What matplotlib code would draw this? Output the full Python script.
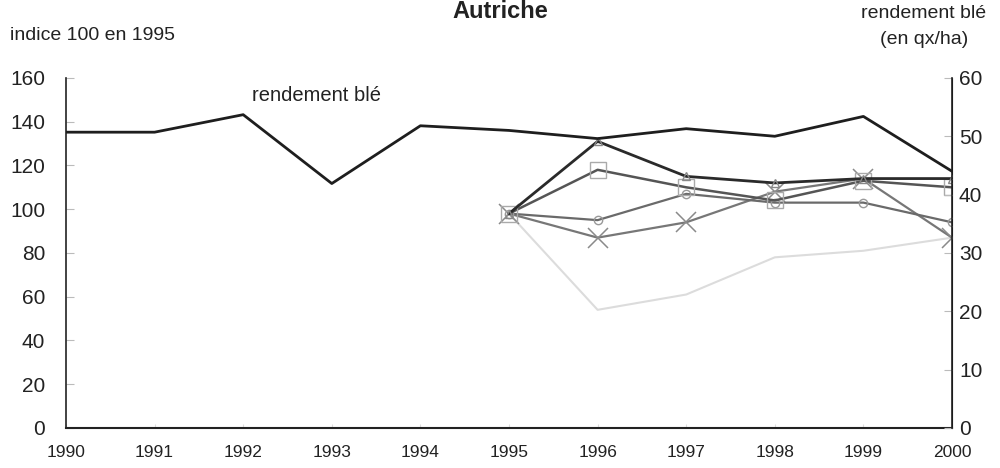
import matplotlib
matplotlib.use("Agg")
import matplotlib.pyplot as plt

plt.rcParams['font.family'] = ['Liberation Sans', 'DejaVu Sans']

years = [1990, 1991, 1992, 1993, 1994, 1995, 1996, 1997, 1998, 1999, 2000]
rendement = [50.7, 50.7, 53.7, 41.9, 51.8, 51.0, 49.6, 51.3, 50.0, 53.4, 44.0]

idx_years = [1995, 1996, 1997, 1998, 1999, 2000]
serie_a = [98, 131, 115, 112, 114, 114]
serie_b = [98, 118, 110, 104, 113, 110]
serie_c = [98, 95, 107, 103, 103, 94]
serie_d = [98, 87, 94, 108, 114, 87]
serie_e = [98, 54, 61, 78, 81, 87]

left_ticks = [0, 20, 40, 60, 80, 100, 120, 140, 160]
right_ticks = [0, 10, 20, 30, 40, 50, 60]

fig = plt.figure(figsize=(10, 4.68), dpi=100)
ax = fig.add_axes([0.066, 0.0855, 0.886, 0.748])
ax2 = ax.twinx()

ax.plot(idx_years, serie_e, color='#dcdcdc', lw=1.5, zorder=2)
ax.plot(idx_years, serie_d, color='#777777', lw=1.6, marker='x', ms=14,
        mec='#8a8a8a', mew=1.1, zorder=3)
ax.plot(idx_years, serie_c, color='#6a6a6a', lw=1.6, marker='o', ms=6,
        mfc='none', mec='#999999', mew=1, zorder=3)
ax.plot(idx_years, serie_b, color='#555555', lw=1.8, marker='s', ms=11,
        mfc='none', mec='#aaaaaa', mew=1, zorder=4)
ax.plot(idx_years, serie_a, color='#2a2a2a', lw=2.0, marker='^', ms=6,
        mfc='none', mec='#888888', mew=1, zorder=5)

ax2.plot(years, rendement, color='#1e1e1e', lw=2.0, zorder=6)

ax.set_xlim(1990, 2000)
ax.set_ylim(0, 160)
ax2.set_ylim(0, 60)
ax.set_xticks(years)
ax.set_xticklabels([str(y) for y in years], fontsize=12.5)
ax.set_yticks(left_ticks)
ax.set_yticklabels([str(v) for v in left_ticks], fontsize=15)
ax2.set_yticks(right_ticks)
ax2.set_yticklabels([str(v) for v in right_ticks], fontsize=15)

for a in (ax, ax2):
    a.spines['top'].set_visible(False)
    a.set_facecolor('none')
ax.spines['left'].set_color('#222222')
ax.spines['bottom'].set_color('#222222')
ax2.spines['right'].set_color('#222222')
ax.spines['left'].set_linewidth(1.2)
ax.spines['bottom'].set_linewidth(1.5)
ax2.spines['right'].set_linewidth(1.2)
ax2.spines['left'].set_visible(False)
ax2.spines['bottom'].set_visible(False)

ax.tick_params(axis='y', direction='in', length=6, color='#bbbbbb', pad=15, labelcolor='#222222')
ax.tick_params(axis='x', direction='in', length=3, color='#dddddd', pad=12, labelcolor='#222222')
ax2.tick_params(axis='y', direction='in', length=6, color='#bbbbbb', pad=5, labelcolor='#222222')

ax.text(1992.1, 152, 'rendement blé', fontsize=14.5, color='#222222', ha='left', va='center')

fig.text(0.5, 1.0, 'Autriche', fontsize=17, fontweight='bold', ha='center', va='top', color='#222222')
fig.text(0.01, 0.925, 'indice 100 en 1995', fontsize=14, ha='left', va='center', color='#222222')
fig.text(0.924, 0.972, 'rendement blé', fontsize=14, ha='center', va='center', color='#222222')
fig.text(0.924, 0.915, '(en qx/ha)', fontsize=14, ha='center', va='center', color='#222222')

fig.savefig('out.png', dpi=100)
